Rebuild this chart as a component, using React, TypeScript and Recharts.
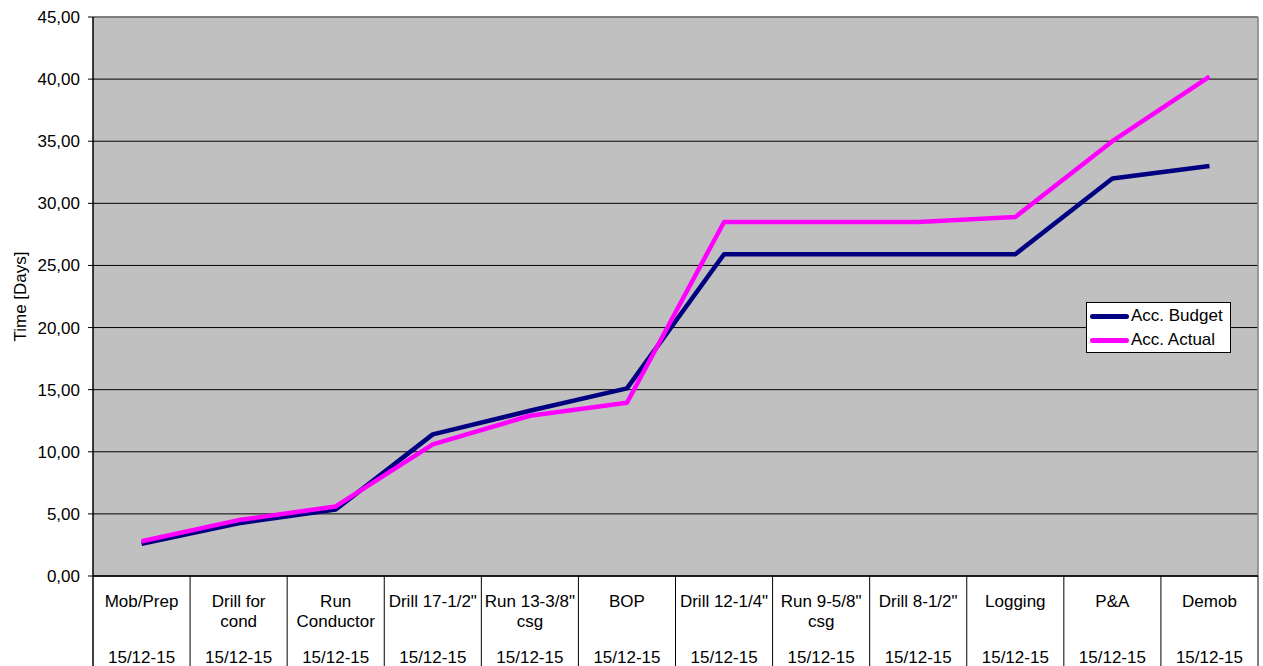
import React from 'react'
import {
  ComposedChart, Line, XAxis, YAxis, CartesianGrid, ReferenceLine,
} from 'recharts'

const CATEGORIES = [
  'Mob/Prep', 'Drill for\ncond', 'Run\nConductor', 'Drill 17-1/2"', 'Run 13-3/8"\ncsg', 'BOP',
  'Drill 12-1/4"', 'Run 9-5/8"\ncsg', 'Drill 8-1/2"', 'Logging', 'P&A', 'Demob',
]
const DATES = [
  '15/12-15', '15/12-15', '15/12-15', '15/12-15', '15/12-15', '15/12-15',
  '15/12-15', '15/12-15', '15/12-15', '15/12-15', '15/12-15', '15/12-15',
]
const BUDGET = [2.6, 4.25, 5.35, 11.4, 13.3, 15.1, 25.9, 25.9, 25.9, 25.9, 32.0, 33.0]
const ACTUAL = [2.8, 4.5, 5.6, 10.6, 12.9, 13.95, 28.5, 28.5, 28.5, 28.9, 35.0, 40.2]
const Y_TICKS = [0, 5, 10, 15, 20, 25, 30, 35, 40, 45]
const SERIES = [
  { key: 'budget', label: 'Acc. Budget', color: '#000080' },
  { key: 'actual', label: 'Acc. Actual', color: '#FF00FF' },
]

const W = 1263
const H = 666
const MARGIN = { top: 17, right: 5, left: 0, bottom: 0 }
const Y_AXIS_W = 93
const X_AXIS_H = 90
const PLOT_W = W - MARGIN.left - MARGIN.right - Y_AXIS_W
const PLOT_BOTTOM = H - MARGIN.bottom - X_AXIS_H
const BAND = PLOT_W / CATEGORIES.length
const FONT = '"Liberation Sans", Arial, sans-serif'

const data = CATEGORIES.map((name, i) => ({
  name,
  budget: BUDGET[i],
  actual: ACTUAL[i],
}))

const fmt = (v: number) => v.toFixed(2).replace('.', ',')

// two-row category label: task name (may wrap) + date, boxed by separators
function CategoryTick(props: any) {
  const { x, payload, index } = props
  const lines = String(payload.value).split('\n')
  const left = x - BAND / 2
  const right = x + BAND / 2
  return (
    <g>
      {index === 0 && (
        <line x1={left} x2={left} y1={PLOT_BOTTOM} y2={H} stroke="#000" strokeWidth={1.5} />
      )}
      <line x1={right} x2={right} y1={PLOT_BOTTOM} y2={H} stroke="#000" strokeWidth={1} />
      {lines.map((l, i) => (
        <text key={i} x={x} y={PLOT_BOTTOM + 31 + i * 20} textAnchor="middle"
          fontSize={17} fill="#000" fontFamily={FONT}>
          {l}
        </text>
      ))}
      <text x={x} y={PLOT_BOTTOM + 87} textAnchor="middle" fontSize={17} fill="#000" fontFamily={FONT}>
        {DATES[index]}
      </text>
    </g>
  )
}

function LegendBox() {
  return (
    <div style={{
      position: 'absolute', left: 1086, top: 302,
      background: '#fff', border: '1px solid #000', width: 145, height: 51,
      boxSizing: 'border-box', padding: '1px 0 0 3px', fontFamily: FONT, fontSize: 17,
    }}>
      {SERIES.map(s => (
        <div key={s.key} style={{ display: 'flex', alignItems: 'center', height: 24 }}>
          <span style={{ width: 39, height: 5, background: s.color, borderRadius: 2.5, marginRight: 2 }} />
          <span style={{ color: '#000' }}>{s.label}</span>
        </div>
      ))}
    </div>
  )
}

export default function App() {
  return (
    <div style={{ position: 'absolute', left: 0, top: 0, width: W, height: H, background: '#fff', fontFamily: FONT }}>
      <ComposedChart width={W} height={H} data={data} margin={MARGIN} style={{ fontFamily: FONT }}>
        <CartesianGrid fill="#C0C0C0" stroke="#000" vertical={false} />
        <CartesianGrid
          horizontal={false}
          stroke="#808080"
          strokeWidth={1.5}
          verticalCoordinatesGenerator={({ offset }: any) => [offset.left + offset.width]}
        />
        <ReferenceLine y={45} stroke="#808080" strokeWidth={1.5} />
        <XAxis
          dataKey="name"
          scale="band"
          interval={0}
          height={X_AXIS_H}
          tickLine={false}
          axisLine={{ stroke: '#000', strokeWidth: 1.5 }}
          tick={<CategoryTick />}
        />
        <YAxis
          width={Y_AXIS_W}
          domain={[0, 45]}
          ticks={Y_TICKS}
          tickFormatter={fmt}
          tickSize={5}
          tickMargin={8}
          interval={0}
          axisLine={{ stroke: '#000', strokeWidth: 1.5 }}
          tickLine={{ stroke: '#000' }}
          tick={{ fontSize: 17, fill: '#000', fontFamily: FONT }}
          label={{ value: 'Time [Days]', angle: -90, position: 'center', dx: -27, fontSize: 17, fill: '#000', fontFamily: FONT }}
        />
        {SERIES.map(s => (
          <Line key={s.key} dataKey={s.key} name={s.label} type="linear" stroke={s.color} strokeWidth={4.5}
            strokeLinejoin="round" dot={false} activeDot={false} isAnimationActive={false} />
        ))}
      </ComposedChart>
      <LegendBox />
    </div>
  )
}
